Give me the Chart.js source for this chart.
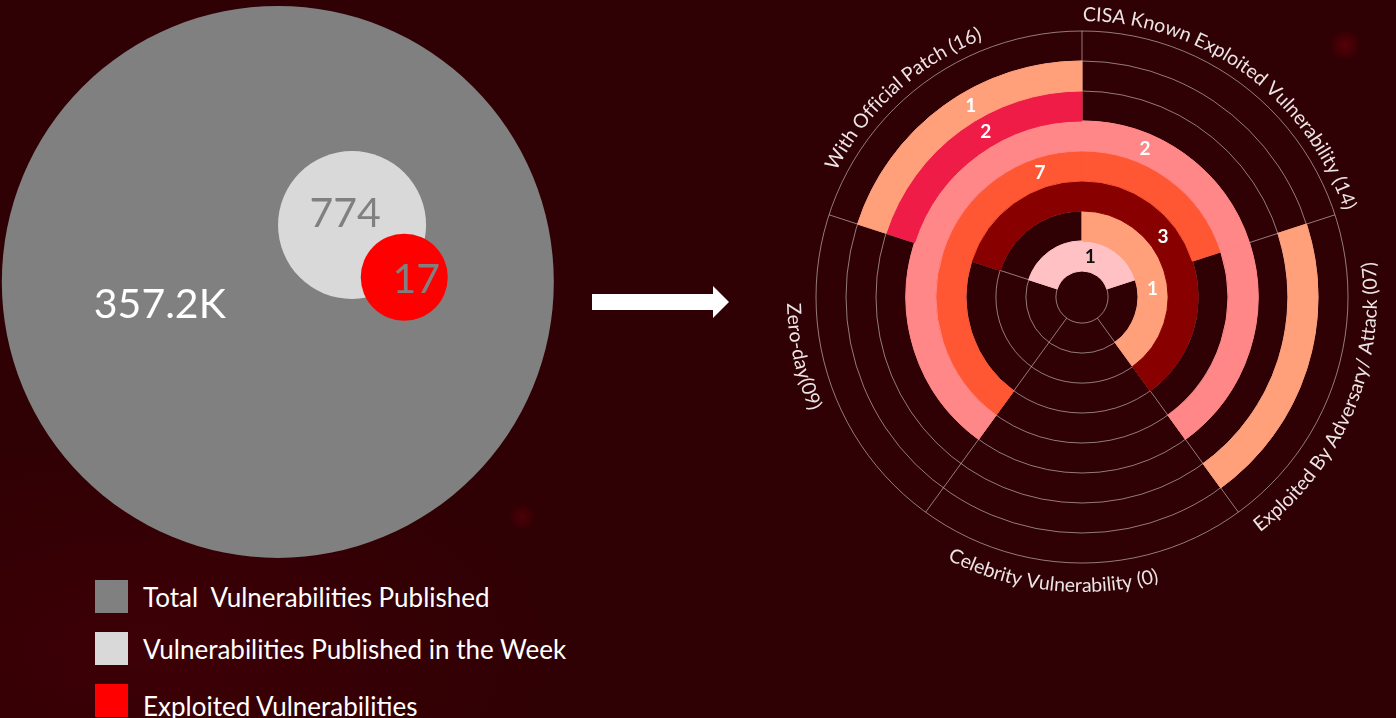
<!DOCTYPE html>
<html>
<head>
<meta charset="utf-8">
<title>Vulnerabilities of the week</title>
<script src="https://cdn.jsdelivr.net/npm/chart.js@4.4.1/dist/chart.umd.min.js"></script>
<style>
  html, body { margin: 0; padding: 0; width: 1396px; height: 718px; overflow: hidden; }
  body {
    position: relative;
    font-family: Lato, 'Open Sans', sans-serif;
    background:
      radial-gradient(circle at 1345px 45px, rgba(120, 0, 10, 0.55) 0, rgba(120, 0, 10, 0) 16px),
      radial-gradient(circle at 522px 517px, rgba(110, 0, 10, 0.45) 0, rgba(110, 0, 10, 0) 14px),
      radial-gradient(ellipse at 150px 650px, rgba(70, 0, 8, 0.6) 0, rgba(70, 0, 8, 0) 420px),
      #2f0004;
  }
  #bubbleBox { position: absolute; left: 0; top: 0; width: 580px; height: 580px; }
  #ringBox { position: absolute; left: 762px; top: -23px; width: 640px; height: 640px; }
  #arrow { position: absolute; left: 0; top: 0; }
  #legend { position: absolute; left: 95px; top: 580px; }
  .item { display: flex; align-items: center; height: 33px; margin-bottom: 19px; }
  .swatch { width: 33px; height: 33px; margin-right: 15px; flex: none; }
  .name { color: #ffffff; font-size: 26px; white-space: pre; }
</style>
</head>
<body>
<div id="bubbleBox"><canvas id="bubbleChart" width="580" height="580"></canvas></div>
<svg id="arrow" width="760" height="340"><polygon points="592,294 713,294 713,286 729,302 713,318 713,310 592,310" fill="#ffffff"/></svg>
<div id="legend"></div>
<div id="ringBox"><canvas id="ringChart" width="640" height="640"></canvas></div>

<script>
// ---- left: bubbles ----
const bubbleNames = ['Total  Vulnerabilities Published', 'Vulnerabilities Published in the Week', 'Exploited Vulnerabilities'];
const bubbleValues = [357200, 774, 17];
const bubbleText = ['357.2K', '774', '17'];
const bubbleColors = ['#808080', '#d9d9d9', '#ff0000'];
const bubbleTextColors = ['#ffffff', '#808080', '#808080'];

// ---- right: radial breakdown of the 17 exploited ----
const categories = [
    'CISA Known Exploited Vulnerability (14)',
    'Exploited By Adversary/ Attack (07)',
    'Celebrity Vulnerability (0)',
    'Zero-day(09)',
    'With Official Patch (16)'
];
const sectorShare = [1, 1, 1, 1, 1];
// rings from the centre outwards, 1 = group belongs to that category
const ringMembers = [
    [1, 0, 0, 0, 1],
    [1, 1, 0, 0, 0],
    [1, 1, 0, 0, 1],
    [1, 0, 0, 1, 1],
    [1, 1, 0, 1, 1],
    [0, 0, 0, 0, 1],
    [0, 1, 0, 0, 1],
    [0, 0, 0, 0, 0]
];
const ringCounts = [1, 1, 3, 7, 2, 2, 1, 0];

// styles
const ringColors = ['#ffc1c4', '#ffa07a', '#880000', '#ff5733', '#ff8787', '#ef1c47', '#ffa07a', null];
const ringLabelColors = ['#111111', '#ffffff', '#ffffff', '#ffffff', '#ffffff', '#ffffff', '#ffffff', '#ffffff'];
const gridColor = 'rgba(215, 205, 205, 0.6)';
const labelAt = 0.58;
const categoryNudgeDeg = [0, 5, 6, 6, -6]; // hand placement of the curved names

// bubble layout (axis units 0-100, radius in px) - the picture is not to scale
const bubbleLayout = [
    { x: 47.9, y: 51.4, r: 276 },
    { x: 60.7, y: 61.2, r: 74 },
    { x: 69.7, y: 52.2, r: 43.5 }
];
const bubbleTextShift = [[-118, 36], [-7, 2], [12, 16]];

// legend
const legendEl = document.getElementById('legend');
bubbleNames.forEach((name, i) => {
    const row = document.createElement('div');
    row.className = 'item';
    row.innerHTML = `<div class="swatch" style="background:${bubbleColors[i]}"></div><span class="name">${name}</span>`;
    if (i === 2) row.querySelector('.name').style.marginTop = '10px';
    legendEl.appendChild(row);
});

// texte dans les bulles
const bubbleLabels = {
    id: 'bubbleLabels',
    afterDatasetsDraw(chart) {
        const ctx = chart.ctx;
        ctx.save();
        ctx.font = '41px Lato';
        ctx.textAlign = 'center';
        ctx.textBaseline = 'alphabetic';
        chart.data.datasets.forEach((ds, i) => {
            const pt = chart.getDatasetMeta(i).data[0];
            ctx.fillStyle = bubbleTextColors[i];
            ctx.fillText(bubbleText[i], pt.x + bubbleTextShift[i][0], pt.y + bubbleTextShift[i][1]);
        });
        ctx.restore();
    }
};

new Chart(document.getElementById('bubbleChart'), {
    type: 'bubble',
    data: {
        datasets: bubbleValues.map((v, i) => ({
            label: bubbleNames[i],
            data: [{ x: bubbleLayout[i].x, y: bubbleLayout[i].y, r: bubbleLayout[i].r, value: v }],
            backgroundColor: bubbleColors[i],
            borderWidth: 0,
            clip: false,
            order: -i
        }))
    },
    options: {
        responsive: false,
        animation: false,
        events: [],
        layout: { padding: 0, autoPadding: false },
        scales: {
            x: { min: 0, max: 100, display: false },
            y: { min: 0, max: 100, display: false }
        },
        plugins: { legend: { display: false }, tooltip: { enabled: false } }
    },
    plugins: [bubbleLabels]
});

// grille: cercles + rayons sous les anneaux
const ringGrid = {
    id: 'ringGrid',
    beforeDatasetsDraw(chart) {
        const ctx = chart.ctx;
        const metas = chart.getSortedVisibleDatasetMetas();
        const first = metas[0].data[0];
        const cx = first.x, cy = first.y;
        const radii = [];
        metas.forEach(meta => {
            radii.push(meta.data[0].innerRadius, meta.data[0].outerRadius);
        });
        const rMin = Math.min(...radii), rMax = Math.max(...radii);
        ctx.save();
        ctx.strokeStyle = gridColor;
        ctx.lineWidth = 1;
        [...new Set(radii.map(r => Math.round(r * 10) / 10))].forEach(r => {
            ctx.beginPath();
            ctx.arc(cx, cy, r, 0, Math.PI * 2);
            ctx.stroke();
        });
        metas[0].data.forEach(a => {
            const t = a.startAngle;
            ctx.beginPath();
            ctx.moveTo(cx + rMin * Math.cos(t), cy + rMin * Math.sin(t));
            ctx.lineTo(cx + rMax * Math.cos(t), cy + rMax * Math.sin(t));
            ctx.stroke();
        });
        ctx.restore();
    }
};

// chiffres sur chaque anneau
const ringNumbers = {
    id: 'ringNumbers',
    afterDatasetsDraw(chart) {
        const ctx = chart.ctx;
        ctx.save();
        ctx.font = 'bold 19px Lato';
        ctx.textAlign = 'center';
        ctx.textBaseline = 'middle';
        chart.data.datasets.forEach((ds, di) => {
            if (!ds.count) return;
            const arcs = chart.getDatasetMeta(di).data;
            const m = ds.members;
            const n = m.length;
            let best = null;
            for (let i = 0; i < n; i++) {
                if (!m[i] || m[(i - 1 + n) % n]) continue;
                let j = i;
                while (m[(j + 1) % n] && (j + 1) % n !== i) j++;
                const start = arcs[i].startAngle;
                let end = arcs[j % n].endAngle;
                if (end <= start) end += Math.PI * 2;
                if (!best || end - start >= best.end - best.start) best = { start, end };
            }
            if (!best) return;
            const a = best.start + labelAt * (best.end - best.start);
            const r = (arcs[0].innerRadius + arcs[0].outerRadius) / 2;
            ctx.fillStyle = ds.labelColor;
            ctx.fillText(String(ds.count), arcs[0].x + r * Math.cos(a), arcs[0].y + r * Math.sin(a));
        });
        ctx.restore();
    }
};

function drawArcText(ctx, text, cx, cy, radius, mid, inward) {
    const chars = [...text];
    const widths = chars.map(ch => ctx.measureText(ch).width);
    const total = widths.reduce((s, w) => s + w, 0);
    const dir = inward ? -1 : 1;
    let angle = mid - dir * total / 2 / radius;
    chars.forEach((ch, k) => {
        const a = angle + dir * widths[k] / 2 / radius;
        ctx.save();
        ctx.translate(cx + radius * Math.cos(a), cy + radius * Math.sin(a));
        ctx.rotate(a + dir * Math.PI / 2);
        ctx.fillText(ch, 0, 0);
        ctx.restore();
        angle += dir * widths[k] / radius;
    });
}

// noms des catégories autour du cercle
const categoryText = {
    id: 'categoryText',
    afterDraw(chart) {
        const ctx = chart.ctx;
        const arcs = chart.getSortedVisibleDatasetMetas()[0].data;
        ctx.save();
        ctx.font = '19.5px Lato';
        ctx.fillStyle = '#ece4e4';
        ctx.textAlign = 'center';
        ctx.textBaseline = 'alphabetic';
        arcs.forEach((a, i) => {
            const mid = (a.startAngle + a.endAngle) / 2 + categoryNudgeDeg[i] * Math.PI / 180;
            const fromTop = ((mid + Math.PI / 2) % (Math.PI * 2) + Math.PI * 2) % (Math.PI * 2);
            const inward = fromTop > Math.PI / 2 && fromTop < Math.PI * 1.5;
            const r = inward ? a.outerRadius + 29 : a.outerRadius + 10;
            drawArcText(ctx, chart.data.labels[i], a.x, a.y, r, mid, inward);
        });
        ctx.restore();
    }
};

const ringDatasets = ringMembers.map((members, i) => {
    const fill = members.map(on => (on && ringColors[i]) ? ringColors[i] : 'rgba(0,0,0,0)');
    return {
        data: sectorShare,
        backgroundColor: fill,
        borderColor: fill,
        borderWidth: members.map(on => (on && ringColors[i]) ? 1 : 0),
        members: members,
        count: ringCounts[i],
        labelColor: ringLabelColors[i]
    };
}).reverse(); // dataset 0 = outer ring

new Chart(document.getElementById('ringChart'), {
    type: 'doughnut',
    data: { labels: categories, datasets: ringDatasets },
    options: {
        responsive: false,
        animation: false,
        events: [],
        radius: 266,
        cutout: '9.8%',
        hoverOffset: 0,
        layout: { padding: 0 },
        plugins: { legend: { display: false }, tooltip: { enabled: false } }
    },
    plugins: [ringGrid, ringNumbers, categoryText]
});
</script>
</body>
</html>
